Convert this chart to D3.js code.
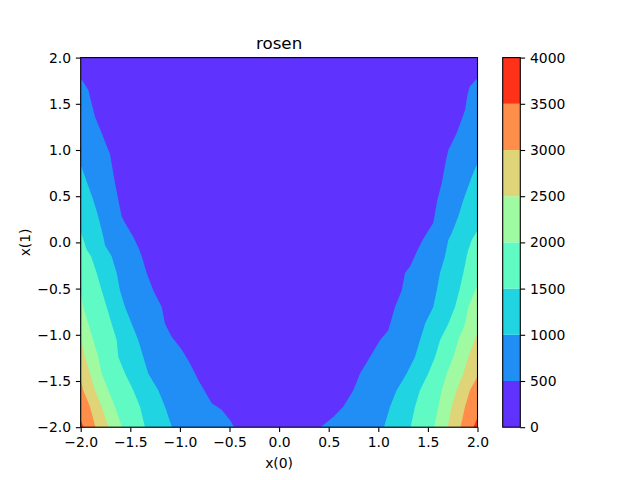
<!DOCTYPE html>
<html>
<head>
<meta charset="utf-8">
<script src="https://cdn.jsdelivr.net/npm/d3@7"></script>
<style>
    body { margin: 0; background: #fff; }
    text { font-family: "DejaVu Sans", sans-serif; fill: #000; }
    .axis text { font-size: 13.9px; }
    .axis line, .axis path { stroke: #000; stroke-width: 1.1; }
</style>
</head>
<body>
<svg id="chart" width="640" height="480"></svg>
<script>
/**
 * Contour levels and band colours (rainbow colormap).
 */
const levels = [0, 500, 1000, 1500, 2000, 2500, 3000, 3500, 4000];
const bandColors = ['#6032fe', '#208ef4', '#20d4e1', '#60fac5', '#9ffaa2', '#dfd478', '#ff8e4a', '#ff3219'];
const axisTicks = [-2, -1.5, -1, -0.5, 0, 0.5, 1, 1.5, 2];

/**
 * Level boundaries, [x(0), x(1)], top to bottom.
 * Left side: region between x = -2 and the line is above the level.
 */
const left500 = [[-2.0, 1.78], [-1.923, 1.65], [-1.899, 1.54], [-1.856, 1.36], [-1.788, 1.18], [-1.722, 1.0],
    [-1.705, 0.96], [-1.654, 0.64], [-1.587, 0.28], [-1.553, 0.21], [-1.47, 0.06], [-1.409, -0.08], [-1.385, -0.15],
    [-1.335, -0.33], [-1.268, -0.52], [-1.183, -0.70], [-1.15, -0.88], [-1.083, -1.02], [-0.982, -1.16],
    [-0.898, -1.31], [-0.815, -1.49], [-0.679, -1.74], [-0.579, -1.81], [-0.49, -1.93], [-0.455, -2.0]];
const left1000 = [[-2.0, 0.84], [-1.957, 0.71], [-1.873, 0.46], [-1.823, 0.28], [-1.772, 0.06], [-1.755, -0.03],
    [-1.688, -0.15], [-1.637, -0.33], [-1.604, -0.52], [-1.553, -0.70], [-1.486, -0.88], [-1.419, -1.06],
    [-1.369, -1.24], [-1.319, -1.42], [-1.218, -1.60], [-1.15, -1.78], [-1.08, -2.0]];
const left1500 = [[-2.0, 0.12], [-1.94, -0.08], [-1.896, -0.15], [-1.839, -0.33], [-1.788, -0.52], [-1.738, -0.70],
    [-1.688, -0.88], [-1.637, -1.06], [-1.621, -1.24], [-1.553, -1.42], [-1.47, -1.60], [-1.402, -1.78], [-1.352, -2.0]];
const left2000 = [[-2.0, -0.53], [-1.974, -0.70], [-1.923, -0.88], [-1.873, -1.06], [-1.823, -1.24], [-1.788, -1.42],
    [-1.722, -1.60], [-1.654, -1.78], [-1.584, -2.0]];
const left2500 = [[-2.0, -1.04], [-1.957, -1.24], [-1.906, -1.42], [-1.856, -1.60], [-1.788, -1.78], [-1.72, -2.0]];
const left3000 = [[-2.0, -1.49], [-1.974, -1.60], [-1.906, -1.78], [-1.851, -2.0]];
const left3500 = [[-2.0, -1.92], [-1.972, -2.0]];

// Right side: region between the line and x = 2 is above the level.
const right500 = [[2.0, 1.78], [1.924, 1.69], [1.901, 1.61], [1.874, 1.43], [1.79, 1.18], [1.706, 1.0], [1.682, 0.89],
    [1.639, 0.64], [1.595, 0.46], [1.554, 0.21], [1.488, 0.10], [1.448, 0.03], [1.397, -0.08], [1.32, -0.26],
    [1.269, -0.33], [1.236, -0.52], [1.168, -0.70], [1.101, -0.95], [1.017, -1.06], [0.916, -1.24], [0.816, -1.42],
    [0.748, -1.60], [0.647, -1.78], [0.546, -1.89], [0.417, -2.0]];
const right1000 = [[2.0, 0.86], [1.942, 0.71], [1.857, 0.46], [1.806, 0.28], [1.74, 0.10], [1.706, 0.03],
    [1.672, -0.15], [1.622, -0.33], [1.589, -0.52], [1.554, -0.70], [1.471, -0.88], [1.42, -1.06], [1.37, -1.24],
    [1.286, -1.42], [1.185, -1.60], [1.118, -1.78], [1.057, -2.0]];
const right1500 = [[2.0, 0.13], [1.942, 0.03], [1.907, -0.08], [1.891, -0.15], [1.857, -0.33], [1.817, -0.52],
    [1.773, -0.70], [1.706, -0.88], [1.622, -1.06], [1.572, -1.24], [1.504, -1.42], [1.42, -1.60], [1.37, -1.78],
    [1.325, -2.0]];
const right2000 = [[2.0, -0.46], [1.907, -0.70], [1.874, -0.88], [1.806, -1.06], [1.756, -1.24], [1.69, -1.42],
    [1.639, -1.60], [1.605, -1.78], [1.562, -2.0]];
const right2500 = [[2.0, -0.98], [1.907, -1.24], [1.857, -1.42], [1.79, -1.60], [1.74, -1.78], [1.698, -2.0]];
const right3000 = [[2.0, -1.45], [1.924, -1.60], [1.874, -1.78], [1.829, -2.0]];
const right3500 = [[2.0, -1.90], [1.958, -2.0]];

const leftLines = [left500, left1000, left1500, left2000, left2500, left3000, left3500];
const rightLines = [right500, right1000, right1500, right2000, right2500, right3000, right3500];

/**
 * Visual configs.
 */
const margin = { top: 57.6, left: 80.7 },
    width = 396.8, height = 369.6,
    cbar = { x: 502.7, width: 17.6 },
    tick = 4.86; // 3.5pt tick length and padding

const svg = d3.select('#chart');

const xScale = d3.scaleLinear().domain([-2, 2]).range([margin.left, margin.left + width]),
    yScale = d3.scaleLinear().domain([-2, 2]).range([margin.top + height, margin.top]),
    cScale = d3.scaleLinear().domain([0, 4000]).range([margin.top + height, margin.top]),
    line = d3.line().x(d => xScale(d[0])).y(d => yScale(d[1]));

/**
 * Filled bands.
 */
const plot = svg.append('g').attr('class', 'bands');

// Lowest band covers everything
plot.append('rect')
    .attr('x', xScale(-2)).attr('y', yScale(2))
    .attr('width', xScale(2) - xScale(-2)).attr('height', yScale(-2) - yScale(2))
    .attr('fill', bandColors[0]);

// Higher bands drawn on top, from each side
leftLines.forEach((pts, i) => {
    plot.append('path')
        .attr('d', line(pts.concat([[-2, -2]])) + 'Z')
        .attr('fill', bandColors[i + 1]);
});
rightLines.forEach((pts, i) => {
    plot.append('path')
        .attr('d', line(pts.concat([[2, -2]])) + 'Z')
        .attr('fill', bandColors[i + 1]);
});

/**
 * Axes.
 */
const fmt = d3.format('.1f');
svg.append('g').attr('class', 'axis')
    .attr('transform', 'translate(0,' + (margin.top + height) + ')')
    .call(d3.axisBottom(xScale).tickValues(axisTicks).tickFormat(fmt).tickSizeOuter(0).tickSize(tick).tickPadding(tick))
    .call(g => g.select('.domain').remove());
svg.append('g').attr('class', 'axis')
    .attr('transform', 'translate(' + margin.left + ',0)')
    .call(d3.axisLeft(yScale).tickValues(axisTicks).tickFormat(fmt).tickSizeOuter(0).tickSize(tick).tickPadding(tick))
    .call(g => g.select('.domain').remove());

svg.append('rect')
    .attr('x', margin.left).attr('y', margin.top)
    .attr('width', width).attr('height', height)
    .attr('fill', 'none').attr('stroke', '#000').attr('stroke-width', 1.1);

// Labels
svg.append('text').attr('x', margin.left + width / 2).attr('y', 49.3)
    .attr('text-anchor', 'middle').style('font-size', '16.7px').text('rosen');
svg.append('text').attr('x', margin.left + width / 2).attr('y', 467.5)
    .attr('text-anchor', 'middle').style('font-size', '13.9px').text('x(0)');
svg.append('text').attr('transform', 'translate(29.5,' + (margin.top + height / 2) + ') rotate(-90)')
    .attr('text-anchor', 'middle').style('font-size', '13.9px').text('x(1)');

/**
 * Colorbar.
 */
const cb = svg.append('g').attr('class', 'colorbar');
cb.selectAll('rect').data(bandColors).enter().append('rect')
    .attr('x', cbar.x)
    .attr('y', (d, i) => cScale(levels[i + 1]))
    .attr('width', cbar.width)
    .attr('height', (d, i) => cScale(levels[i]) - cScale(levels[i + 1]))
    .attr('fill', d => d);
cb.append('rect')
    .attr('x', cbar.x).attr('y', margin.top)
    .attr('width', cbar.width).attr('height', height)
    .attr('fill', 'none').attr('stroke', '#000').attr('stroke-width', 1.1);
svg.append('g').attr('class', 'axis')
    .attr('transform', 'translate(' + (cbar.x + cbar.width) + ',0)')
    .call(d3.axisRight(cScale).tickValues(levels).tickFormat(d3.format('d')).tickSizeOuter(0).tickSize(tick).tickPadding(tick))
    .call(g => g.select('.domain').remove());
</script>
</body>
</html>
